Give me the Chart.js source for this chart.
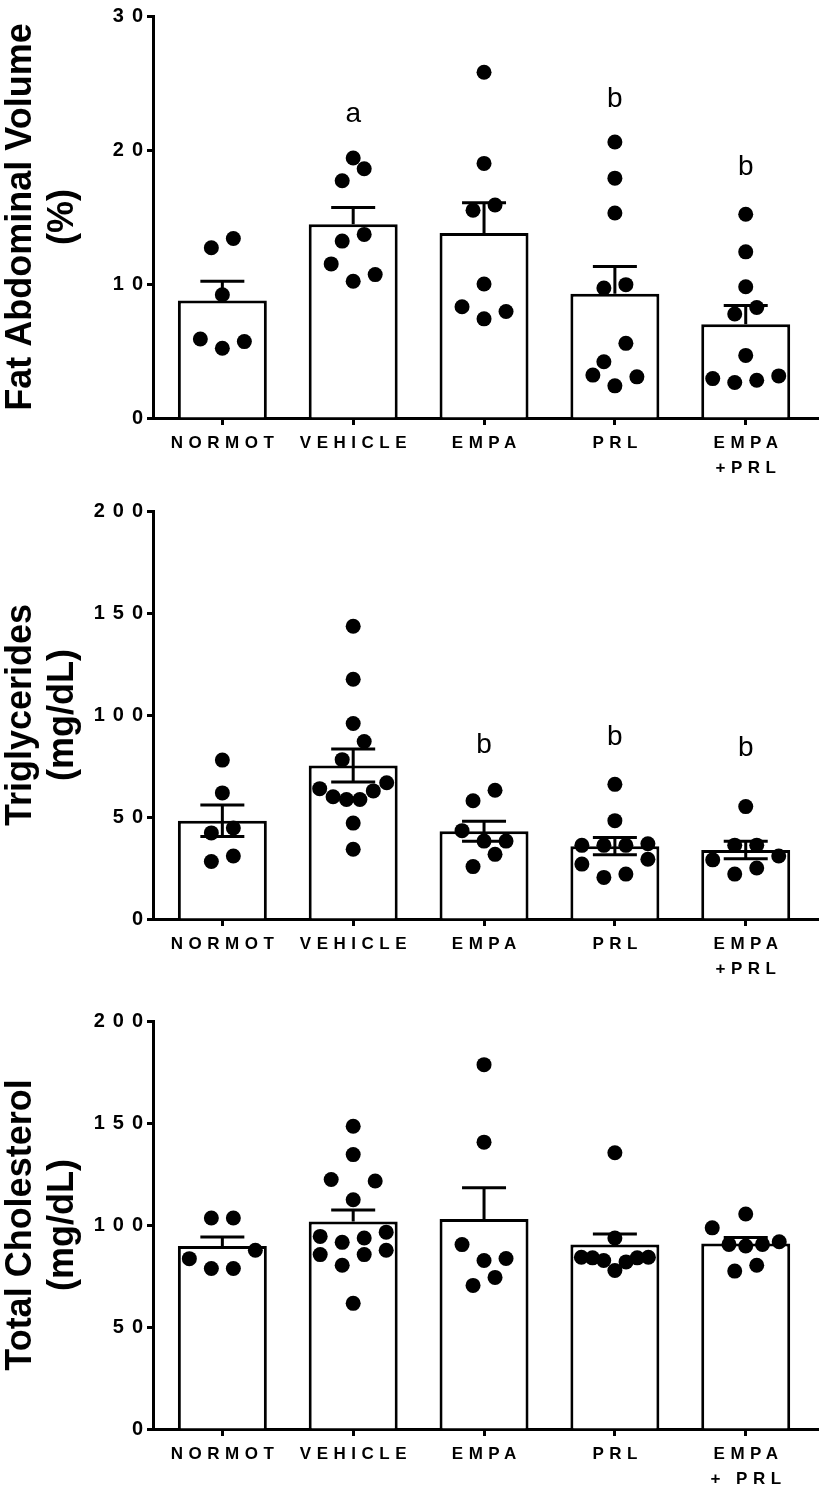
<!DOCTYPE html>
<html><head><meta charset="utf-8">
<script src="https://cdn.jsdelivr.net/npm/chart.js@4.4.1/dist/chart.umd.min.js"></script>
<style>
html,body{margin:0;padding:0;background:#fff;}
#wrap{position:relative;width:819px;height:1490px;overflow:hidden;background:#fff;}
canvas{position:absolute;left:0;}
</style></head><body>
<div id="wrap">
<canvas id="c1" width="819" height="495" style="top:0px;width:819px;height:495px"></canvas>
<canvas id="c2" width="819" height="510" style="top:495px;width:819px;height:510px"></canvas>
<canvas id="c3" width="819" height="485" style="top:1005px;width:819px;height:485px"></canvas>
</div>
<script>
// ---------- categories / tick labels ----------
const groupLabels = ['NORMOT', 'VEHICLE', 'EMPA', 'PRL', ['EMPA', '+PRL']];
const groupLabelsChol = ['NORMOT', 'VEHICLE', 'EMPA', 'PRL', ['EMPA', '+ PRL']];

// ---------- Panel 1: Fat abdominal volume (%) ----------
const fatMean = [8.76, 14.45, 13.8, 9.27, 7.0];
const fatSem = [1.44, 1.25, 2.26, 2.03, 1.4];
const fatNormot = [12.7, 13.4, 9.2, 5.9, 5.2, 5.7];
const fatVehicle = [19.4, 18.6, 17.7, 13.7, 13.2, 11.5, 10.2, 10.7];
const fatEmpa = [25.8, 19.0, 15.9, 15.5, 10.0, 8.3, 7.95, 7.4];
const fatPrl = [20.6, 17.9, 15.3, 9.95, 9.7, 5.57, 4.2, 3.2, 3.07, 2.4];
const fatEmpaPrl = [15.2, 12.4, 9.8, 8.25, 7.76, 4.67, 3.14, 2.94, 2.82, 2.65];
const fatLetters = ['', 'a', '', 'b', 'b'];
const fatLetterLevel = [null, 22.1, null, 23.2, 18.1];

// ---------- Panel 2: Triglycerides (mg/dL) ----------
const trigMean = [48.2, 75.2, 43.0, 35.7, 33.8];
const trigSem = [7.7, 8.1, 4.9, 4.2, 4.3];
const trigNormot = [77.9, 61.8, 44.6, 42.2, 30.9, 28.2];
const trigVehicle = [143.5, 117.5, 95.8, 87.0, 78.1, 66.8, 63.9, 62.8, 59.9, 58.6, 58.6, 47.0, 34.2];
const trigEmpa = [63.1, 58.0, 43.3, 38.2, 38.2, 31.7, 25.7];
const trigPrl = [66.0, 48.2, 36.9, 36.1, 36.1, 36.1, 29.3, 26.9, 22.0, 20.4];
const trigEmpaPrl = [55.1, 36.2, 36.2, 30.9, 29.0, 25.0, 22.0];
const trigLetters = ['', '', 'b', 'b', 'b'];
const trigLetterLevel = [null, null, 81.6, 85.5, 79.7];

// ---------- Panel 3: Total cholesterol (mg/dL) ----------
const cholMean = [89.7, 101.7, 103.0, 90.4, 90.9];
const cholSem = [4.4, 5.7, 15.2, 5.2, 3.0];
const cholNormot = [103.4, 103.4, 87.6, 83.5, 78.7, 78.7];
const cholVehicle = [148.4, 134.5, 122.3, 121.6, 112.4, 96.5, 94.4, 93.6, 91.5, 87.6, 85.5, 85.5, 80.3, 61.6];
const cholEmpa = [178.6, 140.6, 90.4, 83.6, 82.6, 74.3, 70.4];
const cholPrl = [135.4, 93.6, 84.2, 84.2, 83.9, 83.9, 82.6, 81.9, 77.7];
const cholEmpaPrl = [105.4, 98.6, 91.8, 90.5, 90.5, 89.7, 80.3, 77.4];

// ---------- style / layout constants ----------
const FONT = "'Liberation Sans', Arial, Helvetica, sans-serif";
const X_SPACING = 5.5, Y_SPACING = 8;
const ROW_PX = 21.5, SLOT_PX = 22, SPAN_PX = 67, CAP_PX = 22;
Chart.defaults.font.family = FONT;
Chart.defaults.color = '#000';

// GraphPad-like scatter layout: rows of nearby values spread symmetrically
function swarmOffsets(values, pxPerUnit, pxPerCat) {
  const idx = values.map((v, i) => i).sort((a, b) => values[a] - values[b]);
  const rows = [];
  let cur = null;
  idx.forEach(i => {
    if (cur && (values[i] - values[cur[0]]) * pxPerUnit < ROW_PX) cur.push(i);
    else { cur = [i]; rows.push(cur); }
  });
  const off = new Array(values.length).fill(0);
  rows.forEach(r => {
    const n = r.length;
    const step = Math.min(SLOT_PX, SPAN_PX / Math.max(n - 1, 1));
    r.forEach((i, k) => {
      let slot;
      if (n % 2 === 1) slot = k === 0 ? 0 : (k % 2 === 1 ? (k + 1) / 2 : -k / 2);
      else { const m = Math.floor(k / 2) + 0.5; slot = k % 2 === 0 ? -m : m; }
      off[i] = slot * step / pxPerCat;
    });
  });
  return off;
}

const spacingPlugin = {
  id: 'labelSpacing',
  afterLayout(chart) {
    Object.values(chart.scales).forEach(s => {
      if (s._spacedWrap) return;
      const orig = s.drawLabels;
      s.drawLabels = function (ca) {
        const horiz = this.isHorizontal();
        const sp = horiz ? X_SPACING : Y_SPACING;
        const ctx = this.ctx;
        ctx.save();
        ctx.letterSpacing = sp + 'px';
        ctx.translate(horiz ? sp / 2 : sp, 0);
        orig.call(this, ca);
        ctx.restore();
      };
      s._spacedWrap = true;
    });
  }
};

function errorBarPlugin(means, sems, both) {
  return {
    id: 'errbars',
    afterDatasetsDraw(chart) {
      const { ctx, scales: { x, y } } = chart;
      ctx.save();
      ctx.strokeStyle = '#000';
      ctx.lineWidth = 3;
      means.forEach((m, i) => {
        const px = x.getPixelForValue(i);
        const py = y.getPixelForValue(m);
        const top = y.getPixelForValue(m + sems[i]);
        ctx.beginPath();
        ctx.moveTo(px, py); ctx.lineTo(px, top);
        ctx.moveTo(px - CAP_PX, top); ctx.lineTo(px + CAP_PX, top);
        if (both) {
          const bot = y.getPixelForValue(m - sems[i]);
          ctx.moveTo(px, py); ctx.lineTo(px, bot);
          ctx.moveTo(px - CAP_PX, bot); ctx.lineTo(px + CAP_PX, bot);
        }
        ctx.stroke();
      });
      ctx.restore();
    }
  };
}

function letterPlugin(letters, levels) {
  return {
    id: 'sigLetters',
    afterDraw(chart) {
      const { ctx, scales: { x, y } } = chart;
      ctx.save();
      ctx.letterSpacing = '0px';
      ctx.font = '28px ' + FONT;
      ctx.fillStyle = '#000';
      ctx.textAlign = 'center';
      ctx.textBaseline = 'alphabetic';
      letters.forEach((t, i) => {
        if (!t) return;
        ctx.fillText(t, x.getPixelForValue(i), y.getPixelForValue(levels[i]));
      });
      ctx.restore();
    }
  };
}

function buildPanel(id, p) {
  const ctx = document.getElementById(id);
  const bars = p.means.map((m, i) => ({ x: i, y: m }));
  const initPts = [];
  p.groups.forEach((g, gi) => g.forEach(v => initPts.push({ x: gi, y: v })));
  const chart = new Chart(ctx, {
    type: 'bar',
    data: {
      datasets: [
        {
          type: 'scatter', data: initPts, order: 1,
          pointRadius: 7.5, pointHoverRadius: 7.5,
          pointBackgroundColor: '#000', pointBorderWidth: 0, borderColor: '#000', clip: false
        },
        {
          type: 'bar', data: bars, order: 2,
          backgroundColor: '#fff', borderColor: '#000', borderWidth: 3,
          barPercentage: 0.68, categoryPercentage: 1, borderSkipped: 'start'
        }
      ]
    },
    options: {
      responsive: false, animation: false,
      devicePixelRatio: 1,
      layout: { autoPadding: false, padding: { top: p.padTop, left: 0, right: 0, bottom: 0 } },
      plugins: { legend: { display: false }, tooltip: { enabled: false } },
      scales: {
        x: {
          type: 'linear', min: -0.53, max: 4.56, offset: false,
          afterBuildTicks: s => { s.ticks = [0, 1, 2, 3, 4].map(v => ({ value: v })); },
          afterFit: s => { s.height = p.xAxisH; },
          ticks: {
            callback: (v, i) => p.labels[i],
            font: { size: 17, weight: 'bold', family: FONT, lineHeight: 1.45 },
            color: '#000', padding: 6, maxRotation: 0, minRotation: 0, autoSkip: false
          },
          border: { display: true, width: 3, color: '#000' },
          grid: { display: true, offset: false, drawOnChartArea: false, drawTicks: true, tickLength: 7, tickWidth: 3, tickColor: '#000' }
        },
        y: {
          min: 0, max: p.yMax,
          afterFit: s => { s.width = 153; },
          ticks: {
            stepSize: p.step,
            font: { size: 20, weight: 'bold', family: FONT },
            color: '#000', padding: 4
          },
          border: { display: true, width: 3, color: '#000' },
          grid: { display: true, drawOnChartArea: false, drawTicks: true, tickLength: 6, tickWidth: 3, tickColor: '#000' },
          title: {
            display: true, text: p.title, color: '#000', padding: 0,
            font: { size: 36, weight: 'bold', family: FONT, lineHeight: 1.17 }
          }
        }
      }
    },
    plugins: [spacingPlugin, errorBarPlugin(p.means, p.sems, p.both), letterPlugin(p.letters, p.letterLevels)]
  });
  const xs = chart.scales.x, ys = chart.scales.y;
  const pxY = Math.abs(ys.getPixelForValue(1) - ys.getPixelForValue(0));
  const pxX = xs.getPixelForValue(1) - xs.getPixelForValue(0);
  const pts = [];
  p.groups.forEach((g, gi) => {
    const off = swarmOffsets(g, pxY, pxX);
    g.forEach((v, k) => pts.push({ x: gi + off[k], y: v }));
  });
  chart.data.datasets[0].data = pts;
  chart.update('none');
  return chart;
}

buildPanel('c1', {
  means: fatMean, sems: fatSem, both: false,
  groups: [fatNormot, fatVehicle, fatEmpa, fatPrl, fatEmpaPrl],
  labels: groupLabels, yMax: 30, step: 10,
  title: ['Fat Abdominal Volume', '(%)'],
  letters: fatLetters, letterLevels: fatLetterLevel,
  padTop: 9, xAxisH: 77
});
buildPanel('c2', {
  means: trigMean, sems: trigSem, both: true,
  groups: [trigNormot, trigVehicle, trigEmpa, trigPrl, trigEmpaPrl],
  labels: groupLabels, yMax: 200, step: 50,
  title: ['Triglycerides', '(mg/dL)'],
  letters: trigLetters, letterLevels: trigLetterLevel,
  padTop: 10, xAxisH: 86
});
buildPanel('c3', {
  means: cholMean, sems: cholSem, both: false,
  groups: [cholNormot, cholVehicle, cholEmpa, cholPrl, cholEmpaPrl],
  labels: groupLabelsChol, yMax: 200, step: 50,
  title: ['Total Cholesterol', '(mg/dL)'],
  letters: ['', '', '', '', ''], letterLevels: [null, null, null, null, null],
  padTop: 13, xAxisH: 61
});
</script>
</body></html>
